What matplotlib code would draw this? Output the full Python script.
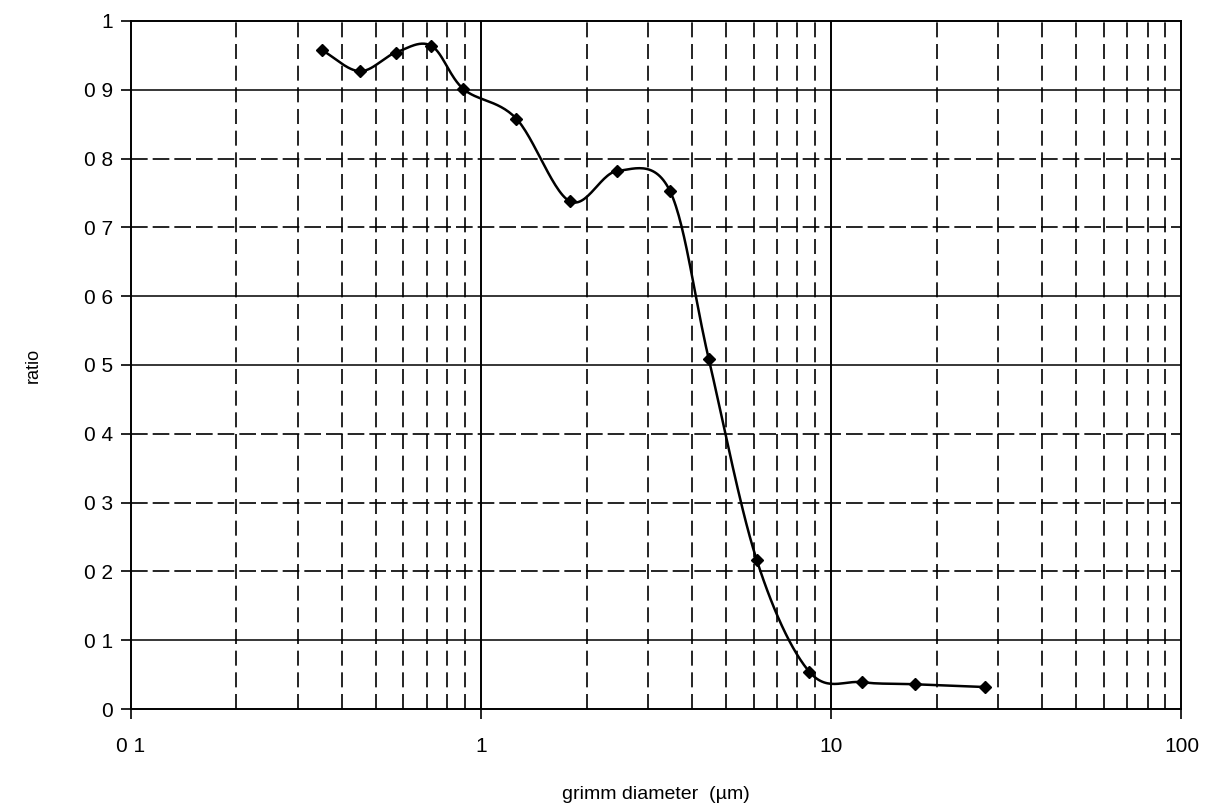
import numpy as np
import matplotlib.pyplot as plt
from matplotlib.ticker import FixedLocator, FixedFormatter, NullFormatter

# grimm channel diameters (um) and ratio
diameter = [0.35, 0.45, 0.57, 0.72, 0.89, 1.26, 1.79, 2.45, 3.46, 4.47,
            6.12, 8.66, 12.2, 17.3, 27.4]
ratio = [0.958, 0.927, 0.954, 0.964, 0.901, 0.858, 0.738, 0.782, 0.753, 0.508,
         0.217, 0.054, 0.039, 0.036, 0.032]

x_ticks = [0.1, 1, 10, 100]
x_labels = ["0 1", "1", "10", "100"]
y_ticks = [0, 0.1, 0.2, 0.3, 0.4, 0.5, 0.6, 0.7, 0.8, 0.9, 1.0]
y_labels = ["0", "0 1", "0 2", "0 3", "0 4", "0 5", "0 6", "0 7", "0 8", "0 9", "1"]


def smooth_line(xs, ys, n=30):
    # Catmull-Rom through the points, in log-x space (like a spreadsheet smoothed line)
    px = np.log10(np.asarray(xs, float))
    py = np.asarray(ys, float)
    px = np.concatenate([[2 * px[0] - px[1]], px, [2 * px[-1] - px[-2]]])
    py = np.concatenate([[2 * py[0] - py[1]], py, [2 * py[-1] - py[-2]]])
    out_x, out_y = [], []
    t = np.linspace(0, 1, n)
    for i in range(1, len(px) - 2):
        for arr, out in ((px, out_x), (py, out_y)):
            p0, p1, p2, p3 = arr[i - 1], arr[i], arr[i + 1], arr[i + 2]
            out.extend(0.5 * (2 * p1 + (-p0 + p2) * t
                              + (2 * p0 - 5 * p1 + 4 * p2 - p3) * t ** 2
                              + (-p0 + 3 * p1 - 3 * p2 + p3) * t ** 3))
    return 10 ** np.array(out_x), np.array(out_y)


plt.rcParams['font.family'] = ['Liberation Sans', 'DejaVu Sans']

fig = plt.figure(figsize=(12.1, 8.06), dpi=100)
ax = fig.add_axes([0.1083, 0.1203, 0.8681, 0.8537])

ax.set_xscale('log')
ax.set_xlim(0.1, 100)
ax.set_ylim(0, 1)

# grid: decades solid, in-between lines dashed
for dec in [0.1, 1, 10]:
    for k in range(2, 10):
        ax.axvline(dec * k, color='black', lw=1.2, ls=(0, (9, 4)), zorder=1)
for v in [1, 10]:
    ax.axvline(v, color='black', lw=1.4, zorder=1)
solid_rows = [0.1, 0.5, 0.6, 0.9]
for v in y_ticks[1:-1]:
    if any(abs(v - s) < 1e-9 for s in solid_rows):
        ax.axhline(v, color='black', lw=1.1, zorder=1)
    else:
        ax.axhline(v, color='black', lw=1.2, ls=(0, (10, 3)), zorder=1)

sx, sy = smooth_line(diameter, ratio)
ax.plot(sx, sy, color='black', lw=1.8, zorder=3)
ax.plot(diameter, ratio, ls='none', marker='D', ms=6.5, color='black', zorder=4)

ax.xaxis.set_major_locator(FixedLocator(x_ticks))
ax.xaxis.set_major_formatter(FixedFormatter(x_labels))
ax.xaxis.set_minor_formatter(NullFormatter())
ax.yaxis.set_major_locator(FixedLocator(y_ticks))
ax.yaxis.set_major_formatter(FixedFormatter(y_labels))
ax.tick_params(axis='both', which='major', direction='out', length=7, width=1.2,
               labelsize=15, colors='black')
ax.tick_params(axis='x', which='major', pad=13)
ax.tick_params(axis='y', which='major', pad=6)
ax.tick_params(axis='both', which='minor', length=0)

for sp in ax.spines.values():
    sp.set_color('black')
    sp.set_linewidth(1.4)

ax.set_xlabel("grimm diameter  (\u00b5m)", fontsize=14, labelpad=22)
ax.set_ylabel("ratio", fontsize=13, labelpad=30)

fig.savefig("out.png", dpi=100)
